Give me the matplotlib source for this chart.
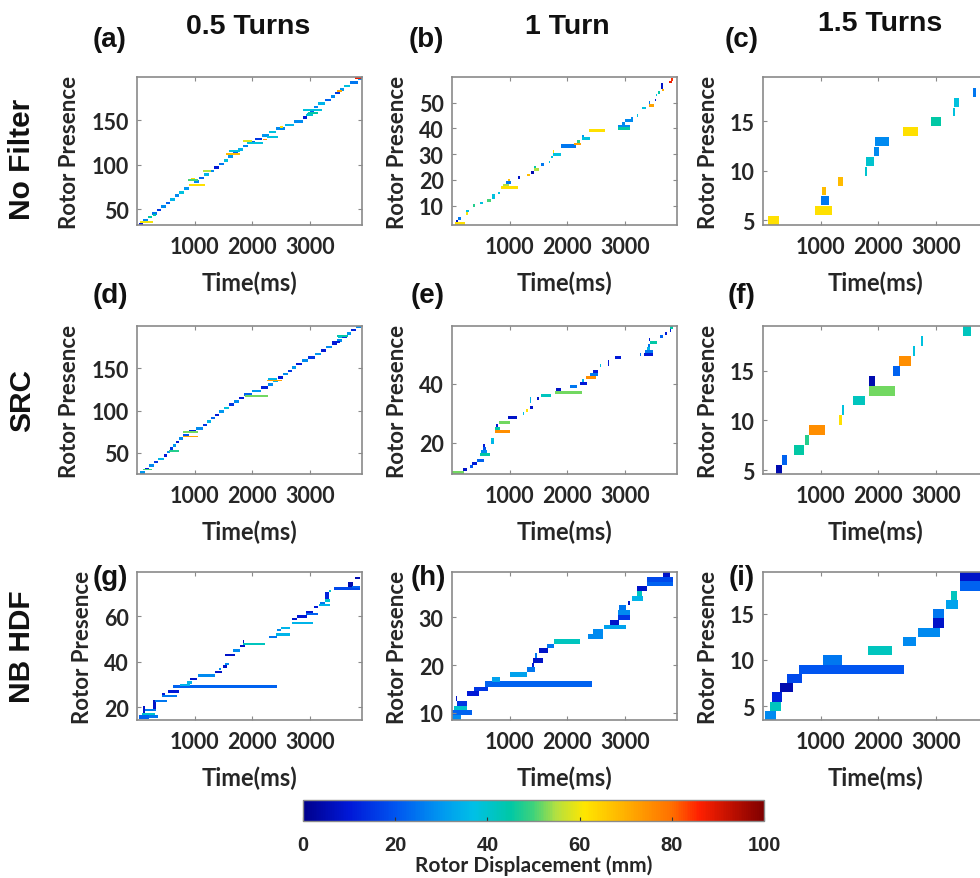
import matplotlib
matplotlib.use("Agg")
import matplotlib.pyplot as plt
from matplotlib.colors import Normalize, LinearSegmentedColormap
import matplotlib.cm as cm

# ---------------- data: (t_start_ms, t_end_ms, row, n_rows, displacement_mm)
panel_a = [
    (40, 110, 32, 3, 10), (110, 190, 36, 3, 28), (190, 265, 40, 3, 45), (265, 340, 44, 3, 25),
    (340, 420, 48, 3, 15), (420, 495, 52, 3, 28), (495, 575, 56, 3, 22), (575, 655, 60, 3, 35),
    (655, 735, 64, 3, 28), (735, 815, 68, 3, 38), (815, 895, 72, 3, 30), (895, 985, 76, 3, 50),
    (985, 1070, 80, 3, 28), (1070, 1155, 84, 3, 22), (1155, 1245, 88, 3, 35), (1245, 1330, 92, 3, 28),
    (1330, 1415, 96, 3, 10), (1415, 1500, 100, 3, 25), (1500, 1585, 104, 3, 38), (1585, 1670, 108, 3, 30),
    (1670, 1755, 112, 3, 22), (1755, 1840, 116, 3, 35), (1840, 1930, 120, 3, 28), (1930, 2050, 124, 3, 22),
    (2050, 2170, 128, 3, 15), (2170, 2295, 132, 3, 30), (2295, 2415, 136, 3, 38), (2415, 2560, 140, 3, 28),
    (2560, 2720, 144, 3, 35), (2720, 2880, 148, 3, 28), (2880, 2945, 152, 3, 10), (2945, 3005, 156, 3, 30),
    (3005, 3070, 160, 3, 22), (3070, 3140, 164, 3, 28), (3140, 3255, 168, 3, 35), (3255, 3365, 172, 3, 22),
    (3365, 3440, 176, 3, 28), (3440, 3520, 180, 3, 15), (3520, 3595, 184, 3, 30), (3595, 3700, 188, 3, 38),
    (3700, 3830, 192, 3, 25), (3830, 3900, 196, 3, 30),
    (52, 283, 35, 2, 60), (280, 330, 43, 2, 45), (900, 1180, 77, 2, 62), (890, 1060, 82, 2, 50),
    (940, 1000, 84, 2, 62), (1150, 1290, 92, 2, 55), (1550, 1790, 112, 2, 68), (1600, 1780, 115, 2, 38),
    (1905, 2190, 124, 2, 38), (1830, 1990, 126, 2, 58), (2180, 2260, 128, 2, 75), (2250, 2450, 131, 2, 38),
    (2470, 2530, 142, 2, 62), (2883, 3200, 161, 2, 38), (2970, 3130, 158, 2, 45), (2930, 3050, 156, 2, 40),
    (3460, 3550, 183, 2, 72), (3780, 3890, 197, 2, 88),
]

panel_b = [
    (50, 230, 3, 1, 62), (70, 100, 4, 1, 8), (100, 150, 5, 1, 25), (243, 280, 7, 1, 60),
    (250, 290, 8, 1, 38), (370, 400, 10, 1, 48), (485, 540, 11, 1, 38), (612, 680, 12, 1, 50),
    (690, 740, 13, 2, 38), (800, 830, 15, 1, 38), (843, 1137, 17, 1.2, 62), (890, 980, 18, 1, 55),
    (930, 1020, 19, 1, 25), (975, 1010, 20, 1, 68), (1150, 1175, 21, 1, 8), (1293, 1350, 22, 1, 68),
    (1370, 1420, 23, 1, 5), (1425, 1500, 24, 1, 55), (1420, 1460, 25, 1, 45), (1536, 1590, 26, 1, 25),
    (1680, 1705, 27, 1, 38), (1720, 1745, 29, 1, 38), (1756, 1890, 30, 1, 38), (1750, 1775, 31, 1, 62),
    (1890, 2150, 33, 1.5, 25), (2114, 2230, 34, 1, 72), (2160, 2220, 35, 1, 48), (2248, 2400, 36, 1, 38),
    (2250, 2280, 37, 1, 30), (2380, 2650, 39, 1.2, 62), (2883, 3085, 40, 1, 45), (2883, 3085, 41, 1, 28),
    (2950, 2990, 42, 1, 28), (3005, 3140, 43, 1, 28), (3110, 3140, 44, 1, 28), (3210, 3230, 45, 1, 38),
    (3287, 3360, 48, 1, 38), (3410, 3500, 49, 1, 72), (3410, 3430, 50, 1, 25), (3510, 3540, 51, 1, 10),
    (3540, 3560, 53, 1, 38), (3570, 3600, 54, 1, 45), (3640, 3680, 55, 1, 70), (3630, 3660, 56, 2, 8),
    (3760, 3810, 58, 1, 88), (3800, 3830, 59, 1, 85),
]

panel_c = [
    (92, 283, 5, 0.9, 62), (901, 1190, 6, 0.9, 62), (1005, 1143, 7, 0.9, 25), (1025, 1085, 8, 0.9, 68),
    (1305, 1380, 9, 0.9, 68), (1767, 1808, 10, 0.9, 40), (1785, 1930, 11, 0.9, 40), (1920, 2010, 12, 0.9, 28),
    (1940, 2180, 13, 0.9, 28), (2431, 2685, 14, 0.9, 62), (2917, 3090, 15, 0.9, 45), (3295, 3330, 16, 0.9, 38),
    (3315, 3400, 17, 0.9, 38), (3640, 3700, 18, 0.9, 25), (3900, 3960, 19, 0.9, 25),
]

panel_d = [
    (52, 132, 26, 3, 30), (132, 212, 30, 3, 10), (212, 292, 34, 3, 28), (292, 372, 38, 3, 15),
    (372, 460, 42, 3, 35), (460, 515, 46, 3, 10), (515, 570, 50, 3, 28), (570, 625, 54, 3, 15),
    (625, 680, 58, 3, 30), (680, 735, 62, 3, 10), (735, 790, 66, 3, 28), (790, 900, 70, 3, 20),
    (900, 1025, 74, 3, 10), (1025, 1150, 78, 3, 28), (1150, 1218, 82, 3, 15), (1218, 1286, 86, 3, 35),
    (1286, 1354, 90, 3, 22), (1354, 1422, 94, 3, 10), (1422, 1503, 98, 3, 30), (1503, 1590, 102, 3, 38),
    (1590, 1677, 106, 3, 15), (1677, 1764, 110, 3, 28), (1764, 1850, 114, 3, 10), (1850, 2000, 118, 3, 22),
    (2000, 2150, 122, 3, 30), (2150, 2270, 126, 3, 12), (2270, 2356, 130, 3, 28), (2356, 2442, 134, 3, 35),
    (2442, 2528, 138, 3, 10), (2528, 2612, 142, 3, 28), (2612, 2680, 146, 3, 15), (2680, 2750, 150, 3, 30),
    (2750, 2855, 154, 3, 10), (2855, 2970, 158, 3, 28), (2970, 3085, 162, 3, 15), (3085, 3185, 166, 3, 30),
    (3185, 3280, 170, 3, 10), (3280, 3380, 174, 3, 28), (3380, 3465, 178, 3, 10), (3465, 3550, 182, 3, 28),
    (3550, 3635, 186, 3, 15), (3635, 3715, 190, 3, 30), (3715, 3800, 194, 3, 12), (3800, 3880, 198, 3, 28),
    (110, 255, 30, 2, 50), (546, 720, 52, 2, 48), (803, 1062, 74, 2, 52), (803, 1062, 69, 2, 72),
    (1872, 2277, 117, 2, 52), (2250, 2510, 135, 2, 72), (2270, 2420, 137, 2, 35), (3460, 3660, 188, 2, 45),
    (3375, 3520, 180, 3, 10), (3480, 3560, 186, 3, 40),
]

panel_e = [
    (0, 208, 10, 1, 52), (185, 255, 11, 1, 8), (310, 370, 12, 1, 20), (340, 425, 13, 1, 10),
    (425, 555, 14, 1, 22), (485, 660, 16, 1, 45), (510, 600, 17, 1, 28), (530, 590, 18, 1, 20),
    (545, 580, 19, 1, 10), (670, 730, 20, 1, 35), (680, 720, 21, 1, 38), (745, 1005, 24, 1, 75),
    (745, 830, 25, 1, 45), (770, 800, 26, 1, 10), (820, 1005, 27, 1, 52), (975, 1120, 28.5, 1, 8),
    (1225, 1240, 30, 1, 38), (1290, 1320, 31, 1, 62), (1350, 1410, 32, 1, 8), (1350, 1370, 34, 2, 35),
    (1465, 1510, 35, 1, 8), (1536, 1710, 36, 1, 42), (1785, 2248, 37, 1, 52), (1800, 1885, 38, 1, 8),
    (2045, 2160, 39, 1, 25), (2220, 2335, 40, 1, 10), (2250, 2290, 41, 1, 35), (2323, 2500, 42, 1, 75),
    (2392, 2536, 43, 1, 25), (2440, 2536, 44, 1, 10), (2565, 2580, 46, 1, 38), (2700, 2715, 46.5, 2, 10),
    (2825, 2925, 49, 1, 10), (3255, 3270, 50, 1, 25), (3335, 3490, 50, 1, 10), (3345, 3480, 51, 1, 25),
    (3380, 3430, 52, 1, 35), (3400, 3440, 53, 1, 25), (3430, 3550, 54, 1, 45), (3420, 3440, 55, 1, 10),
    (3600, 3660, 56, 1, 22), (3690, 3730, 57, 1, 10), (3780, 3800, 58, 1, 10), (3770, 3830, 59, 1, 45),
]

panel_f = [
    (220, 324, 5, 1, 5), (335, 410, 6, 1, 22), (537, 716, 7, 1, 45), (728, 797, 8, 1, 48),
    (797, 1075, 9, 1, 75), (1317, 1363, 10, 1, 62), (1363, 1404, 11, 1, 38), (1560, 1767, 12, 1, 42),
    (1843, 2288, 13, 1, 52), (1837, 1940, 14, 1, 5), (2260, 2375, 15, 1, 22), (2363, 2560, 16, 1, 75),
    (2600, 2630, 17, 1, 38), (2740, 2770, 18, 1, 38), (3460, 3600, 19, 1, 42),
]

panel_g = [
    (40, 215, 15.5, 1.5, 22), (200, 370, 16, 1, 25), (85, 318, 17, 1, 40), (100, 335, 19, 1, 25),
    (110, 130, 18, 3, 8), (285, 330, 20, 4, 8), (315, 515, 23, 1, 25), (430, 690, 25, 1, 25),
    (430, 490, 26, 1, 10), (545, 720, 27, 1, 10), (630, 2420, 29, 1.3, 22), (745, 925, 30, 1, 35),
    (870, 960, 31, 1, 35), (920, 1040, 32.5, 1, 8), (1065, 1350, 34, 1, 28), (1350, 1470, 35.5, 1, 8),
    (1420, 1460, 37, 1, 28), (1490, 1560, 38, 1, 8), (1525, 1600, 39, 1, 28), (1525, 1700, 43, 1, 8),
    (1670, 1790, 45, 1, 28), (1785, 1870, 47, 1, 8), (1840, 2220, 48, 1, 42), (1830, 1850, 49, 1, 8),
    (2293, 2420, 51, 1, 25), (2410, 2650, 52, 1, 35), (2420, 2490, 54, 1, 28), (2490, 2650, 55, 1, 35),
    (2680, 3045, 57, 1, 35), (2680, 2770, 59, 1, 8), (2770, 2940, 60, 1, 10), (2930, 3140, 61, 1, 22),
    (2930, 3055, 62, 1, 10), (3070, 3140, 64, 1, 10), (3155, 3345, 65, 1, 35), (3170, 3260, 66, 1, 25),
    (3260, 3345, 67, 1, 40), (3250, 3330, 68, 3, 12), (3330, 3360, 71, 1, 40), (3415, 3865, 72, 1.5, 18),
    (3660, 3740, 73.5, 2, 5), (3735, 3865, 73, 1, 22), (3780, 3865, 77, 1, 5),
]

panel_h = [
    (0, 160, 9, 1, 28), (0, 340, 10, 1, 22), (35, 265, 11, 1, 40), (80, 265, 12, 1, 15),
    (70, 95, 13, 1, 8), (255, 475, 14, 1, 10), (380, 630, 15, 1, 15), (570, 2420, 16, 1.2, 22),
    (690, 830, 17, 1, 32), (1005, 1305, 18, 1, 32), (1305, 1440, 19, 1, 25), (1380, 1420, 20, 1, 10),
    (1410, 1580, 21, 1, 8), (1440, 1470, 22, 1, 25), (1500, 1670, 23, 1, 8), (1640, 1770, 24, 1, 25),
    (1770, 2210, 25, 1, 42), (2350, 2620, 26, 1, 28), (2440, 2620, 27, 1, 28), (2630, 3015, 28, 1, 32),
    (2740, 2900, 29, 1, 8), (2880, 3085, 30, 1, 15), (2880, 3085, 31, 1, 28), (2900, 3015, 32, 1, 25),
    (3045, 3085, 33, 1, 8), (3120, 3315, 34, 1, 35), (3210, 3300, 35, 1, 42), (3210, 3385, 36, 1, 8),
    (3375, 3835, 37, 1, 22), (3375, 3835, 38, 1, 18), (3650, 3770, 39, 1, 8),
]

panel_i = [
    (35, 220, 4, 1, 28), (127, 306, 5, 1, 42), (156, 323, 6, 1, 12), (295, 514, 7, 1, 5),
    (410, 670, 8, 1, 18), (630, 2444, 9, 1, 20), (1045, 1363, 10, 1, 25), (1825, 2240, 11, 1, 42),
    (2421, 2657, 12, 1, 28), (2686, 3073, 13, 1, 28), (2940, 3142, 14, 1, 8), (2940, 3142, 15, 1, 25),
    (3166, 3374, 16, 1, 32), (3252, 3367, 17, 1, 42), (3413, 3900, 18, 1, 22), (3413, 3900, 19, 1, 8),
]

panels = [panel_a, panel_b, panel_c, panel_d, panel_e, panel_f, panel_g, panel_h, panel_i]
panel_tags = ["(a)", "(b)", "(c)", "(d)", "(e)", "(f)", "(g)", "(h)", "(i)"]
col_titles = ["0.5 Turns", "1 Turn", "1.5 Turns"]
row_titles = ["No Filter", "SRC", "NB HDF"]
ylims = [(32, 199), (2.5, 60), (4.5, 19.5),
         (25, 200), (9.5, 59.5), (4.6, 19.5),
         (14.5, 79.5), (8.5, 39.5), (3.5, 19.5)]
yticks = [[50, 100, 150], [10, 20, 30, 40, 50], [5, 10, 15],
          [50, 100, 150], [20, 40], [5, 10, 15],
          [20, 40, 60], [10, 20, 30], [5, 10, 15]]
xticks = [1000, 2000, 3000]
xlim = (0, 3900)
cbar_ticks = [0, 20, 40, 60, 80, 100]

# colour anchors
cmap_pos = [0.0, 0.10, 0.20, 0.30, 0.37, 0.45, 0.50, 0.55, 0.61, 0.70, 0.80, 0.86, 1.0]
cmap_hex = ["#00008c", "#0018d8", "#0055f0", "#0098f0", "#00c0e6", "#00c8a6", "#40d27a",
            "#b4e040", "#ffe600", "#ffb000", "#ff7000", "#ff2000", "#800000"]

# ---------------- figure
W, H = 980, 879
fig = plt.figure(figsize=(W / 100, H / 100), dpi=100)
cmap = LinearSegmentedColormap.from_list("ref_jet", list(zip(cmap_pos, cmap_hex)))
norm = Normalize(0, 100)

AXF = ["Lato", "DejaVu Sans"]
TF = ["Liberation Sans", "DejaVu Sans"]
tc = "#262626"
sc = "#8a8a8a"

col_x = [137, 452, 763]
row_y = [78, 327, 573]
aw, ah = 225, 148

for i, segs in enumerate(panels):
    r, c = divmod(i, 3)
    x0, y0 = col_x[c], row_y[r]
    ax = fig.add_axes([x0 / W, 1 - (y0 + ah) / H, aw / W, ah / H])
    t0 = [s[0] for s in segs]
    w = [s[1] - s[0] for s in segs]
    bottoms = [s[2] - 0.5 for s in segs]
    hts = [s[3] for s in segs]
    cols = [cmap(norm(s[4])) for s in segs]
    ax.bar(t0, hts, width=w, bottom=bottoms, align="edge", color=cols, linewidth=0)
    ax.set_xlim(*xlim)
    ax.set_ylim(*ylims[i])
    ax.set_xticks(xticks)
    ax.set_yticks(yticks[i])
    ax.tick_params(direction="in", length=3, width=0.8, color=sc, top=True, right=True,
                   labelsize=15.5, labelcolor=tc)
    ax.tick_params(axis="x", pad=8)
    ax.tick_params(axis="y", pad=6)
    for lab in ax.get_xticklabels() + ax.get_yticklabels():
        lab.set_fontfamily(AXF)
        lab.set_fontweight("bold")
    for sp in ax.spines.values():
        sp.set_color(sc)
        sp.set_linewidth(1.2)
    ax.set_xlabel("Time(ms)", fontsize=17, fontweight="bold", family=AXF, color=tc, labelpad=10)
    ax.set_ylabel("Rotor Presence", fontsize=16, fontweight="bold", family=AXF, color=tc, labelpad=8)

# column titles
for c, (tx, ty) in enumerate([(248, 27), (567, 27), (880, 24)]):
    fig.text(tx / W, 1 - ty / H, col_titles[c], ha="center", va="center",
             fontsize=20.5, fontweight="bold", family=TF, color="#111111")

# row titles
for r, ty in enumerate([159, 400, 647]):
    fig.text(22 / W, 1 - ty / H, row_titles[r], ha="center", va="center", rotation=90,
             fontsize=21.5, fontweight="bold", family=TF, color="#111111")

# panel tags
tag_pos = [(110, 40), (426, 40), (742, 40), (110, 296), (428, 296), (742, 296),
           (110, 578), (428, 578), (742, 578)]
for tag, (tx, ty) in zip(panel_tags, tag_pos):
    fig.text(tx / W, 1 - ty / H, tag, ha="center", va="center",
             fontsize=20, fontweight="bold", family=TF, color="#111111")

# colorbar
cb_h = 21
cax = fig.add_axes([303 / W, 1 - 822 / H, 461 / W, cb_h / H])
sm = cm.ScalarMappable(norm=norm, cmap=cmap)
cb = fig.colorbar(sm, cax=cax, orientation="horizontal", ticks=cbar_ticks)
cb.outline.set_edgecolor(sc)
cb.outline.set_linewidth(1.0)
cax.tick_params(direction="in", length=3, color="#333333", labelsize=14.5, labelcolor=tc, pad=10)
for lab in cax.get_xticklabels():
    lab.set_fontfamily(TF)
    lab.set_fontweight("bold")
cb.set_label("Rotor Displacement (mm)", fontsize=15, fontweight="bold", family=AXF, color=tc)
cax.xaxis.label.set_verticalalignment("center")
cax.xaxis.set_label_coords(0.5, -(866 - 822) / cb_h)

fig.savefig("out.png", dpi=100)
